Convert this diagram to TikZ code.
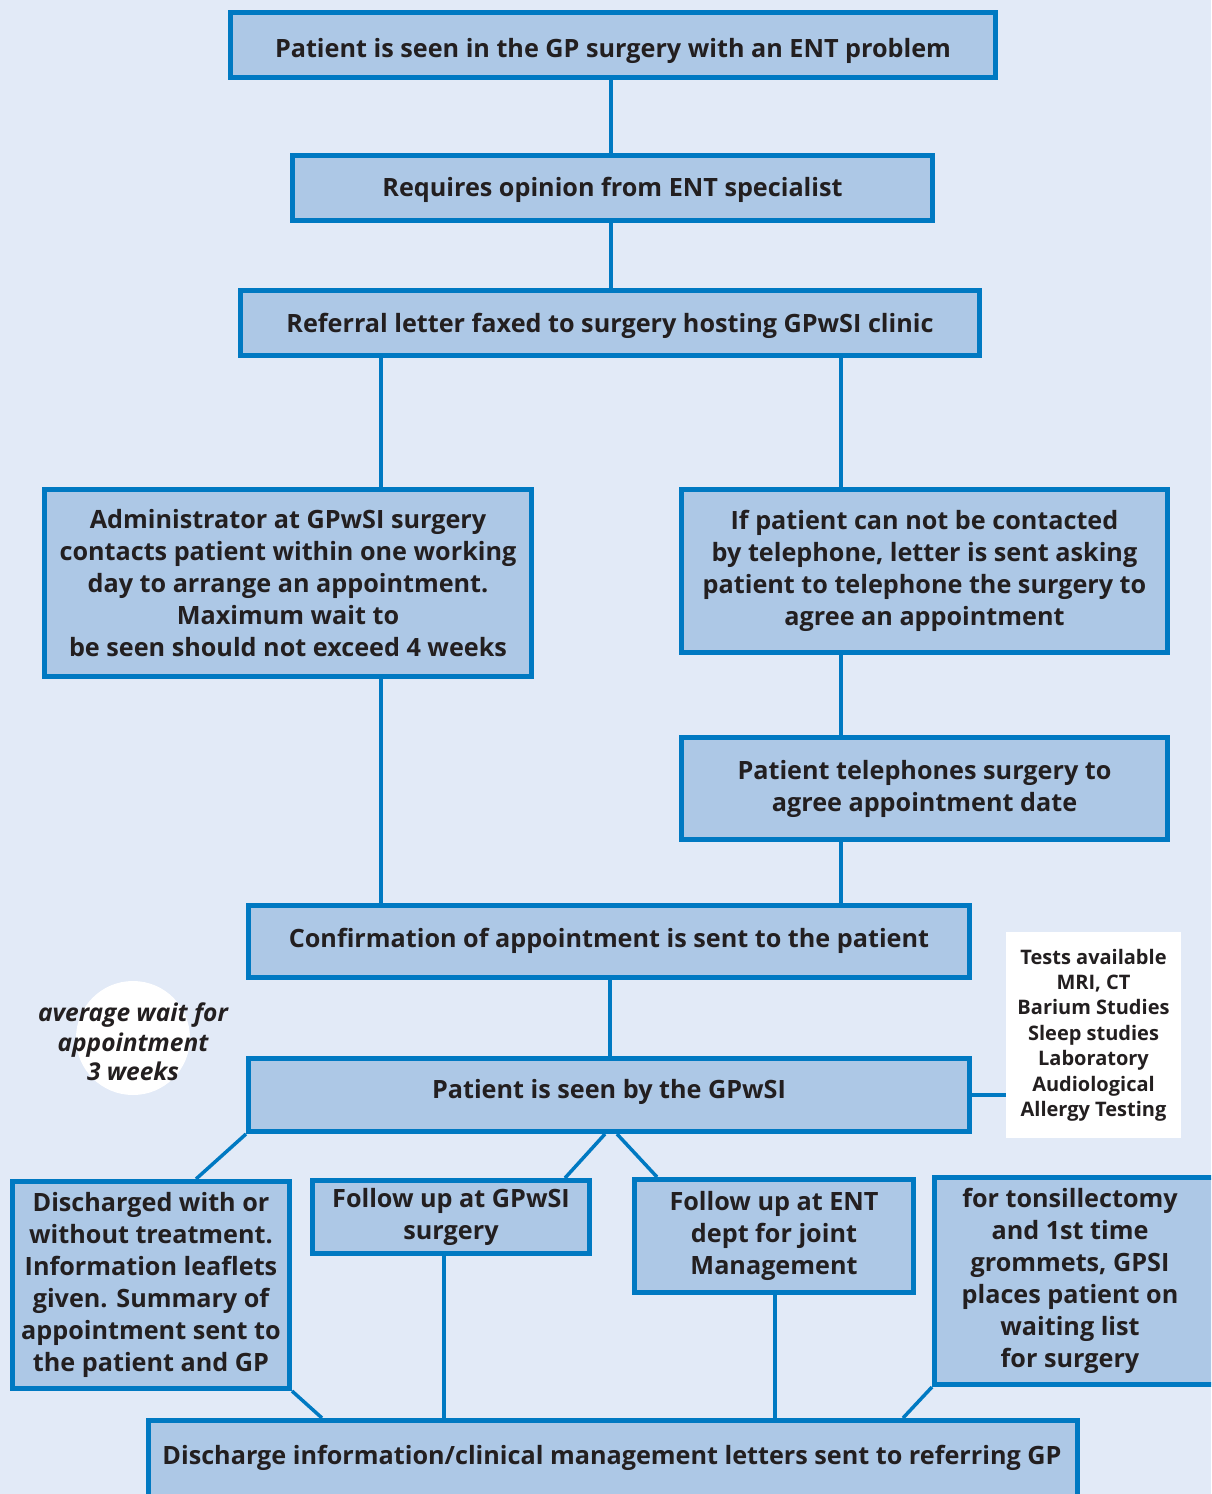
\documentclass[tikz,border=0pt]{standalone}
\usepackage{fontspec}
\setmainfont{Open Sans}
\definecolor{bgc}{RGB}{226,234,247}
\definecolor{boxf}{RGB}{173,200,230}
\definecolor{bord}{RGB}{0,121,194}
\definecolor{txt}{RGB}{35,31,32}
\pgfdeclarelayer{bglayer}
\pgfdeclarelayer{lines}
\pgfsetlayers{bglayer,lines,main}
\begin{document}
\begin{tikzpicture}[x=1pt,y=-1pt,
  bx/.style={draw=bord, fill=boxf, line width=5pt, inner sep=0pt, align=center,
    font=\bfseries\fontsize{25.2}{32}\selectfont, text=txt},
  tx/.style={inner sep=0pt, align=center, font=\bfseries\fontsize{25.2}{32}\selectfont, text=txt},
  base/.style={text height=#1, text depth=0pt},
  con/.style={draw=bord, line width=3.5pt}]
\useasboundingbox (0,0) rectangle (1211,1494);
\begin{pgfonlayer}{bglayer}
\fill[bgc] (0,0) rectangle (1211,1494);
\end{pgfonlayer}
\clip (0,0) rectangle (1211,1494);
% boxes
\node[bx, base=25.6pt, minimum width=765, minimum height=65] (b1) at (613,45) {Patient is seen in the GP surgery with an ENT problem};
\node[bx, base=17.6pt, minimum width=640, minimum height=65] (b2) at (612.5,188) {Requires opinion from ENT specialist};
\node[bx, base=18pt, minimum width=739, minimum height=65] (b3) at (610,323) {Referral letter faxed to surgery hosting GPwSI clinic};
\node[bx, minimum width=487, minimum height=187] (b4) at (288,583) {Administrator at GPwSI surgery\\contacts patient within one working\\day to arrange an appointment.\\Maximum wait to\\be seen should not exceed 4 weeks};
\node[bx, minimum width=486, minimum height=163] (b5) at (924.5,571) {If patient can not be contacted\\by telephone, letter is sent asking\\patient to telephone the surgery to\\agree an appointment};
\node[bx, minimum width=486, minimum height=102] (b6) at (924.5,788.5) {Patient telephones surgery to\\agree appointment date};
\node[bx, base=12.4pt, minimum width=721, minimum height=72] (b7) at (609,941.5) {Confirmation of appointment is sent to the patient};
\node[bx, base=6.4pt, minimum width=721, minimum height=73] (b8) at (609,1095) {Patient is seen by the GPwSI};
\node[bx, minimum width=277, minimum height=207] (b9) at (151,1285) {Discharged with or\\without treatment.\\Information leaflets\\given. Summary of\\appointment sent to\\the patient and GP};
\node[bx, minimum width=277, minimum height=73] (b10) at (451,1217) {Follow up at GPwSI\\surgery};
\node[bx, minimum width=279, minimum height=113] (b11) at (774,1236) {Follow up at ENT\\dept for joint\\Management};
\node[bx, minimum width=303, minimum height=207] (b12) at (1086,1281) {};
\node[tx] (t12) at (1070,1281) {for tonsillectomy\\and 1st time\\grommets, GPSI\\places patient on\\waiting list\\for surgery};
\node[bx, minimum width=929, minimum height=97] (b13) at (613,1469) {};
\node[tx, anchor=base] (t13) at (612,1464) {Discharge information/clinical management letters sent to referring GP};
% tests box
\node[fill=white, minimum width=175, minimum height=206, inner sep=0pt, align=center,
  font=\bfseries\fontsize{20}{25.4}\selectfont, text=txt] (tests) at (1093.5,1035) {Tests available\\MRI, CT\\Barium Studies\\Sleep studies\\Laboratory\\Audiological\\Allergy Testing};
% wait circle
\node[circle, fill=white, minimum size=114, inner sep=0pt] (circ) at (133,1038) {};
\node[tx, font=\bfseries\itshape\fontsize{24.5}{29.5}\selectfont] (wait) at (133,1042) {average wait for\\appointment\\3 weeks};
% connector columns
\coordinate (xa) at (611,0);
\coordinate (xl) at (381,0);
\coordinate (xr) at (841,0);
\coordinate (xc) at (610,0);
\begin{pgfonlayer}{lines}
\draw[con] (b1.south -| xa) -- (b2.north -| xa);
\draw[con] (b2.south -| xa) -- (b3.north -| xa);
\draw[con] (b3.south -| xl) -- (b4.north -| xl);
\draw[con] (b3.south -| xr) -- (b5.north -| xr);
\draw[con] (b4.south -| xl) -- (b7.north -| xl);
\draw[con] (b5.south -| xr) -- (b6.north -| xr);
\draw[con] (b6.south -| xr) -- (b7.north -| xr);
\draw[con] (b7.south -| xc) -- (b8.north -| xc);
\coordinate (p1) at (196,0);
\coordinate (p2) at (605,0);
\coordinate (p3) at (565,0);
\coordinate (p4) at (617,0);
\coordinate (p5) at (657,0);
\coordinate (p6) at (322,0);
\coordinate (p7) at (444,0);
\coordinate (p8) at (775,0);
\coordinate (p9) at (903,0);
\draw[con] (b8.south west) -- (b9.north -| p1);
\draw[con] (b8.south -| p2) -- (b10.north -| p3);
\draw[con] (b8.south -| p4) -- (b11.north -| p5);
\draw[con] (b8.east) -- (tests.west |- b8.east);
\draw[con] (b9.south east) -- (b13.north -| p6);
\draw[con] (b10.south -| p7) -- (b13.north -| p7);
\draw[con] (b11.south -| p8) -- (b13.north -| p8);
\draw[con] (b12.south west) -- (b13.north -| p9);
\end{pgfonlayer}
\end{tikzpicture}
\end{document}
